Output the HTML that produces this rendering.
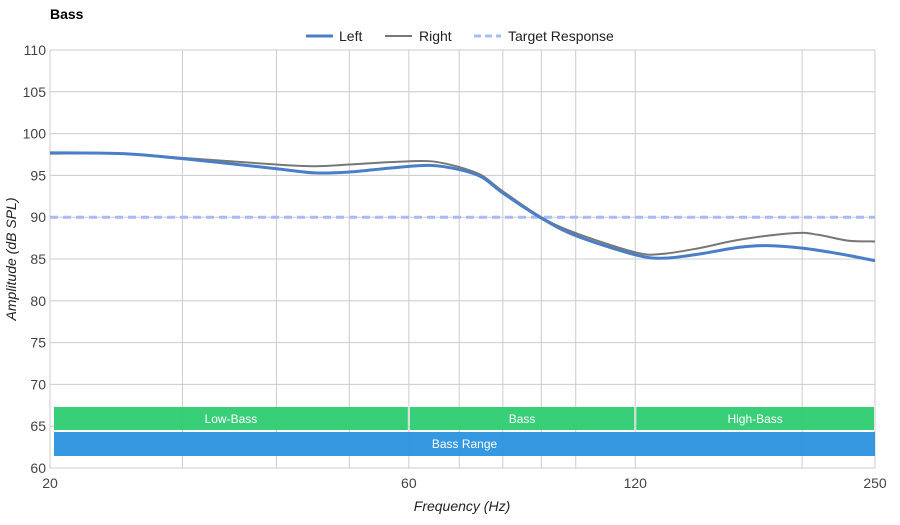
<!DOCTYPE html>
<html><head><meta charset="utf-8"><style>
body{margin:0;background:#fff;font-family:"Liberation Sans",Arial,sans-serif}
svg text{font-family:"Liberation Sans",Arial,sans-serif}
</style></head><body>
<svg id="c" width="900" height="520" viewBox="0 0 900 520">
<text x="50" y="19" font-size="14" font-weight="bold" fill="#000">Bass</text>
<g>
<g><line x1="306" y1="36" x2="333" y2="36" stroke="#4a7fc8" stroke-width="3"/><text x="339" y="41" font-size="14" fill="#222">Left</text></g>
<g><line x1="385" y1="36" x2="412" y2="36" stroke="#777" stroke-width="2"/><text x="419" y="41" font-size="14" fill="#222">Right</text></g>
<g><line x1="474" y1="36" x2="501" y2="36" stroke="#a9bbf5" stroke-width="3" stroke-dasharray="7,4"/><text x="508" y="41" font-size="14" fill="#222">Target Response</text></g>
</g>
<g id="grid"></g>
<g id="bands"></g>
<g id="series"></g>
<g id="axes"></g>
<text x="462" y="511" font-size="14" font-style="italic" text-anchor="middle" fill="#222">Frequency (Hz)</text>
<text transform="translate(16,259) rotate(-90)" font-size="14" font-style="italic" text-anchor="middle" fill="#222">Amplitude (dB SPL)</text>
</svg>
<script>
const yTicks=[60,65,70,75,80,85,90,95,100,105,110];
const xGrid=[20,30,40,50,60,70,80,90,100,120,200,250];
const xTickLabels=[20,60,120,250];
const leftFreq=[20,25,30,40,45,50,57,64,70,75,80,90,100,120,131,146,165,180,200,225,250];
const leftDb=[97.7,97.6,97.0,95.8,95.3,95.4,95.9,96.2,95.7,94.8,92.9,89.9,87.8,85.5,85.1,85.6,86.4,86.6,86.3,85.6,84.8];
const rightFreq=[20,25,30,40,45,50,57,64,70,75,80,90,100,120,130,146,165,195,210,230,250];
const rightDb=[97.6,97.6,97.1,96.3,96.1,96.3,96.6,96.7,96.0,95.0,93.1,90.0,88.1,85.8,85.6,86.3,87.3,88.1,87.9,87.2,87.1];
const targetDb=[90];
const bandNames=["Low-Bass","Bass","High-Bass"];
const bandEdges=[20,60,120,250];
const rangeName=["Bass Range"];
const X0=50,X1=875,Y0=468,Y1=50;
const fx=f=>X0+(Math.log(f/20)/Math.log(250/20))*(X1-X0);
const fy=v=>Y0-(v-60)/(110-60)*(Y0-Y1);
const NS="http://www.w3.org/2000/svg";
function mk(t,a,p){const e=document.createElementNS(NS,t);for(const k in a)e.setAttribute(k,a[k]);p.appendChild(e);return e;}
const grid=document.getElementById('grid'),axes=document.getElementById('axes'),bands=document.getElementById('bands'),series=document.getElementById('series');
yTicks.forEach(v=>{const l=mk('line',{x1:X0,x2:X1,y1:fy(v),y2:fy(v),stroke:'#ccc','stroke-width':1},grid);


const t=mk('text',{x:X0-4,y:fy(v)+5,'font-size':14,'text-anchor':'end',fill:'#444'},axes);t.textContent=v;

});
xGrid.forEach(f=>{const l=mk('line',{x1:fx(f),x2:fx(f),y1:Y1,y2:Y0,stroke:'#ccc','stroke-width':1},grid);

});
xTickLabels.forEach(f=>{const t=mk('text',{x:fx(f),y:488,'font-size':14,'text-anchor':'middle',fill:'#444'},axes);t.textContent=f;

});
for(let i=0;i<bandNames.length;i++){const a=fx(bandEdges[i])+(i==0?4:1),b=fx(bandEdges[i+1])-1;
const r=mk('rect',{x:a,y:407,width:b-a,height:23,fill:'#2ecc71','fill-opacity':0.95},bands);


const t=mk('text',{x:(a+b)/2,y:423,'font-size':12,'text-anchor':'middle',fill:'#fff'},bands);t.textContent=bandNames[i];

}
{const a=fx(20)+4,b=fx(250);const r=mk('rect',{x:a,y:432,width:b-a,height:24,fill:'#2e95e0','fill-opacity':0.97},bands);


const t=mk('text',{x:(a+b)/2,y:448,'font-size':12,'text-anchor':'middle',fill:'#fff'},bands);t.textContent=rangeName[0];

}
const tl=mk('line',{x1:X0,x2:X1,y1:fy(targetDb[0]),y2:fy(targetDb[0]),stroke:'#a9bbf5','stroke-width':3,'stroke-dasharray':'8,5'},series);


function smooth(fr,db){const p=fr.map((f,i)=>[fx(f),fy(db[i])]);let d='M'+p[0][0]+','+p[0][1];
for(let i=0;i<p.length-1;i++){const p0=p[Math.max(0,i-1)],p1=p[i],p2=p[i+1],p3=p[Math.min(p.length-1,i+2)];
const c1=[p1[0]+(p2[0]-p0[0])/6,p1[1]+(p2[1]-p0[1])/6],c2=[p2[0]-(p3[0]-p1[0])/6,p2[1]-(p3[1]-p1[1])/6];
d+=` C${c1[0]},${c1[1]} ${c2[0]},${c2[1]} ${p2[0]},${p2[1]}`;}return d;}
const rp=mk('path',{d:smooth(rightFreq,rightDb),fill:'none',stroke:'#777','stroke-width':2},series);


const lp=mk('path',{d:smooth(leftFreq,leftDb),fill:'none',stroke:'#4a7fc8','stroke-width':3},series);


</script>
</body></html>
